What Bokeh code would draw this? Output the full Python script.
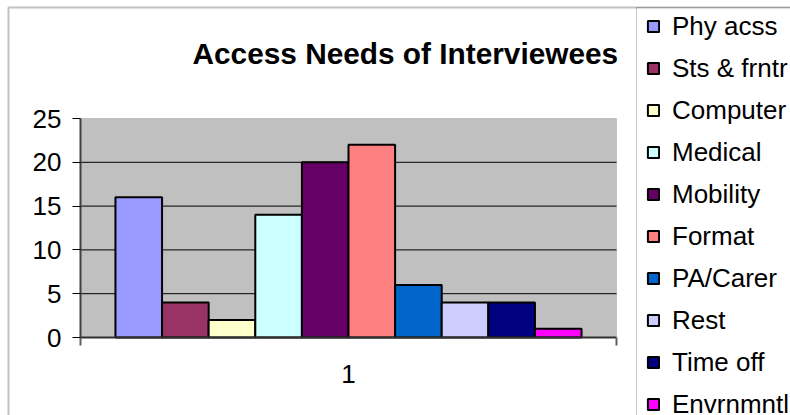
from bokeh.plotting import figure
from bokeh.models import (Range1d, FixedTicker, ColumnDataSource, Legend, LegendItem,
                          Label, BoxAnnotation, LinearAxis)
from bokeh.embed import file_html
from bokeh.resources import INLINE

# ---- data ----
category = "1"
series = ["Phy acss", "Sts & frntr", "Computer", "Medical", "Mobility",
          "Format", "PA/Carer", "Rest", "Time off", "Envrnmntl"]
values = [16, 4, 2, 14, 20, 22, 6, 4, 4, 1]
colors = ["#9999FF", "#993366", "#FFFFCC", "#CCFFFF", "#660066",
          "#FF8080", "#0066CC", "#CCCCFF", "#000080", "#FF00FF"]
y_ticks = [0, 5, 10, 15, 20, 25]
title_text = "Access Needs of Interviewees"

FONT = "Liberation Sans"

# ---- page layout (pixels) ----
W, H = 790, 415
PA_LEFT, PA_RIGHT, PA_TOP, PA_BOTTOM = 80, 616, 118, 337   # plot area
X_MIN, X_MAX = 0.0, 1.0                                     # the single category
Y_MIN, Y_MAX = y_ticks[0], y_ticks[-1]

xppu = (PA_RIGHT - PA_LEFT) / (X_MAX - X_MIN)
yppu = (PA_BOTTOM - PA_TOP) / (Y_MAX - Y_MIN)
x_range = Range1d(X_MIN - PA_LEFT / xppu, X_MAX + (W - PA_RIGHT) / xppu)
y_range = Range1d(Y_MIN - (H - PA_BOTTOM) / yppu, Y_MAX + PA_TOP / yppu)

# Excel-style clustered layout: gap width 150% inside the category
gap = 1.5
n = len(series)
w = (X_MAX - X_MIN) / (n + gap)
xs = [X_MIN + (gap / 2 + i + 0.5) * w for i in range(n)]

p = figure(width=W, height=H, x_range=x_range, y_range=y_range,
           output_backend="svg", toolbar_location=None, title=None,
           x_axis_location=None, y_axis_location=None,
           min_border_left=0, min_border_right=0, min_border_top=0, min_border_bottom=0)
p.background_fill_color = "white"
p.border_fill_color = "white"
p.outline_line_color = None
p.grid.visible = False

# plot area (grey) with its grey top/right edges
p.add_layout(BoxAnnotation(left=X_MIN, right=X_MAX, bottom=Y_MIN, top=Y_MAX,
                           fill_color="#C0C0C0", fill_alpha=1,
                           line_color="#808080", line_width=1, level="underlay"))

# horizontal gridlines
grid_vals = y_ticks[1:-1]
p.segment(x0=[X_MIN] * len(grid_vals), x1=[X_MAX] * len(grid_vals),
          y0=grid_vals, y1=grid_vals, line_color="black", line_width=1)

# bars
renderers = []
for i in range(n):
    src = ColumnDataSource(dict(x=[xs[i]], top=[values[i]]))
    r = p.vbar(x="x", top="top", bottom=0, width=w, source=src,
               fill_color=colors[i], line_color="black", line_width=2)
    renderers.append(r)

# y axis
ya = LinearAxis(fixed_location=X_MIN, bounds=(Y_MIN, Y_MAX), ticker=FixedTicker(ticks=y_ticks))
ya.major_label_text_font = FONT
ya.major_label_text_font_size = "26px"
ya.major_label_text_color = "black"
ya.major_tick_out = 8
ya.major_tick_in = 0
ya.major_tick_line_color = "black"
ya.minor_tick_line_color = None
ya.axis_line_color = "#404040"
ya.axis_line_width = 2
ya.major_label_standoff = 11
p.add_layout(ya, "left")

# x axis: label "1" in the middle, tick marks at the category boundaries
xa = LinearAxis(fixed_location=Y_MIN, bounds=(X_MIN, X_MAX),
                ticker=FixedTicker(ticks=[(X_MIN + X_MAX) / 2], minor_ticks=[X_MIN, X_MAX]))
xa.major_label_overrides = {(X_MIN + X_MAX) / 2: category}
xa.major_label_text_font = FONT
xa.major_label_text_font_size = "26px"
xa.major_label_text_color = "black"
xa.major_tick_out = 0
xa.major_tick_in = 0
xa.minor_tick_out = 8
xa.minor_tick_in = 0
xa.minor_tick_line_color = "#606060"
xa.minor_tick_line_width = 2
xa.axis_line_color = "#303030"
xa.axis_line_width = 2
xa.major_label_standoff = 19
p.add_layout(xa, "below")

# title
p.add_layout(Label(x=192, y=H - 53, x_units="screen", y_units="screen",
                   text=title_text, text_align="left", text_baseline="alphabetic",
                   text_font=FONT, text_font_size="29.8px", text_font_style="bold",
                   text_color="black"))

# legend (last entry runs off the bottom of the window, as in the original)
legend = Legend(items=[LegendItem(label=s, renderers=[r]) for s, r in zip(series, renderers)],
                location=(646, -4.5), orientation="vertical", ncols=1,
                glyph_width=14, glyph_height=14, label_height=30, spacing=11,
                label_standoff=12, padding=0, margin=0,
                label_text_font=FONT, label_text_font_size="26px", label_text_color="black",
                border_line_color=None,
                background_fill_color="white", background_fill_alpha=1)
p.add_layout(legend)

# legend box edge and chart border (left and top edges; the others lie outside the window)
p.add_layout(BoxAnnotation(left=636, right=W + 100, top=H - 7, bottom=-100,
                           left_units="screen", right_units="screen",
                           top_units="screen", bottom_units="screen",
                           fill_alpha=0, line_color="#505050", line_width=1))
p.add_layout(BoxAnnotation(left=8, right=W + 100, top=H - 7, bottom=-100,
                           left_units="screen", right_units="screen",
                           top_units="screen", bottom_units="screen",
                           fill_alpha=0, line_color="#333333", line_width=2))

open("out.html", "w").write(file_html(p, INLINE))
